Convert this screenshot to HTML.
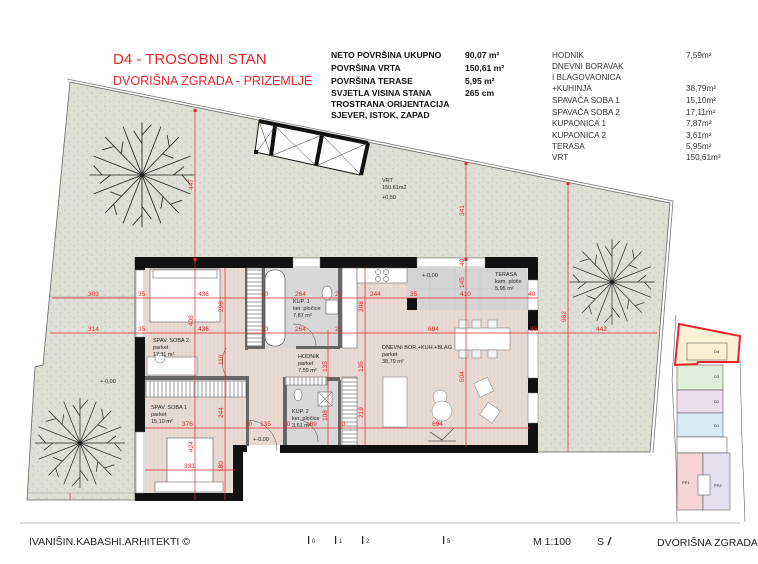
<!DOCTYPE html>
<html><head><meta charset="utf-8"><style>
html,body{margin:0;padding:0;background:#fff;width:758px;height:564px;overflow:hidden}
svg{display:block}
text{font-family:"Liberation Sans",sans-serif}
.d{fill:#e8262b;font-size:6.5px}
.r{fill:#222;font-size:5.5px}
</style></head><body>
<svg width="758" height="564" viewBox="0 0 758 564" xmlns="http://www.w3.org/2000/svg">
<defs>
<pattern id="sp" width="9" height="9" patternUnits="userSpaceOnUse">
<rect width="9" height="9" fill="#dfe0d5"/>
<circle cx="2" cy="3" r="0.5" fill="#9a9c90"/><circle cx="6" cy="7" r="0.5" fill="#9a9c90"/><circle cx="7" cy="1" r="0.4" fill="#aaa"/>
</pattern>
<pattern id="fl" width="4" height="4" patternUnits="userSpaceOnUse">
<rect width="4" height="4" fill="#e8dbd4"/><line x1="2" y1="0" x2="2" y2="4" stroke="#dccbc2" stroke-width="0.5"/>
</pattern>
<pattern id="hatch" width="4" height="4" patternUnits="userSpaceOnUse">
<rect width="4" height="4" fill="#fff"/><line x1="2" y1="0" x2="2" y2="4" stroke="#555" stroke-width="0.6"/>
</pattern>
<pattern id="hatchH" width="4" height="4" patternUnits="userSpaceOnUse">
<rect width="4" height="4" fill="#fff"/><line x1="0" y1="2" x2="4" y2="2" stroke="#555" stroke-width="0.6"/>
</pattern>
<g id="tree" stroke="#222" stroke-width="0.8" fill="none">
<path d="M0 0L0 -50M0 -30L-8 -42M0 -38L9 -48M0 0L35 -36M20 -20L30 -16M26 -27L24 -38M0 0L50 0M30 0L40 -8M38 0L46 9M0 0L35 36M20 20L18 32M27 28L38 24M0 0L0 50M0 30L9 42M0 38L-9 48M0 0L-35 36M-20 20L-30 16M-27 28L-24 38M0 0L-50 0M-30 0L-40 8M-38 0L-46 -9M0 0L-35 -36M-20 -20L-18 -32M-27 -27L-38 -24M0 0L18 -46M0 0L46 -18M0 0L46 18M0 0L18 46M0 0L-18 46M0 0L-46 18M0 0L-46 -18M0 0L-18 -46"/>
</g>
</defs>

<!-- header -->
<text x="113" y="64" font-size="15" fill="#e8262b">D4 - TROSOBNI STAN</text>
<text x="113" y="85" font-size="12.5" fill="#e8262b">DVORIŠNA ZGRADA - PRIZEMLJE</text>
<g font-size="8.6" font-weight="bold" fill="#111">
<text x="331" y="58">NETO POVRŠINA UKUPNO</text><text x="465" y="58">90,07 m²</text>
<text x="331" y="71">POVRŠINA VRTA</text><text x="465" y="71">150,61 m²</text>
<text x="331" y="84">POVRŠINA TERASE</text><text x="465" y="84">5,95 m²</text>
<text x="331" y="96">SVJETLA VISINA STANA</text><text x="465" y="96">265 cm</text>
<text x="331" y="107">TROSTRANA ORIJENTACIJA</text>
<text x="331" y="118">SJEVER, ISTOK, ZAPAD</text>
</g>
<g font-size="8.2" fill="#333">
<text x="552" y="58">HODNIK</text><text x="686" y="58">7,59m²</text>
<text x="552" y="69">DNEVNI BORAVAK</text>
<text x="552" y="80">I BLAGOVAONICA</text>
<text x="552" y="91">+KUHINJA</text><text x="686" y="91">38,79m²</text>
<text x="552" y="103">SPAVAĆA SOBA 1</text><text x="686" y="103">15,10m²</text>
<text x="552" y="115">SPAVAĆA SOBA 2</text><text x="686" y="115">17,11m²</text>
<text x="552" y="126">KUPAONICA 1</text><text x="686" y="126">7,87m²</text>
<text x="552" y="138">KUPAONICA 2</text><text x="686" y="138">3,61m²</text>
<text x="552" y="149">TERASA</text><text x="686" y="149">5,95m²</text>
<text x="552" y="160">VRT</text><text x="686" y="160">150,61m²</text>
</g>

<!-- garden -->
<polygon points="70,82 670,203 650,452 537,452 537,258 135,258 135,500 27,500 35,367 43,365" fill="url(#sp)" stroke="#666" stroke-width="0.8"/>
<polyline points="67,79 673,201 653,453" fill="none" stroke="#777" stroke-width="0.8"/>
<line x1="50" y1="297" x2="135" y2="297" stroke="#999" stroke-width="0.5"/>
<line x1="28" y1="493" x2="135" y2="493" stroke="#999" stroke-width="0.5"/>
<use href="#tree" transform="translate(142,175) scale(1.05)"/>
<use href="#tree" transform="translate(80,443) scale(0.9)"/>
<use href="#tree" transform="translate(612,282) scale(0.85)"/>

<!-- pergola -->
<polygon points="259,121 368,143 360,175 255,152" fill="#fff" stroke="#111" stroke-width="1"/>
<line x1="259" y1="121" x2="368" y2="143" stroke="#111" stroke-width="4"/>
<line x1="368" y1="143" x2="361" y2="175" stroke="#111" stroke-width="4"/>
<line x1="275" y1="126" x2="271" y2="156" stroke="#111" stroke-width="4"/>
<line x1="322" y1="135" x2="316" y2="166" stroke="#111" stroke-width="4"/>
<g stroke="#333" stroke-width="0.5"><line x1="275" y1="126" x2="316" y2="166"/><line x1="322" y1="135" x2="271" y2="156"/><line x1="322" y1="135" x2="361" y2="175"/><line x1="368" y1="143" x2="316" y2="166"/><line x1="259" y1="121" x2="271" y2="156"/><line x1="275" y1="126" x2="257" y2="152"/></g>
<rect x="254" y="150" width="4" height="4" fill="#111"/>
<text x="382" y="182" class="r" font-size="5">VRT</text>
<text x="382" y="189" class="r" font-size="5">150.61m2</text>
<text x="382" y="199" class="r" font-size="5">+0,50</text>
<text x="100" y="383" class="r">+-0,00</text>

<!-- floors -->
<rect x="145" y="268" width="383" height="177" fill="url(#fl)"/>
<rect x="145" y="445" width="90" height="48" fill="url(#fl)"/>
<rect x="263" y="268" width="77" height="80" fill="#d8d8d8"/>
<rect x="285" y="377" width="55" height="68" fill="#d8d8d8"/>
<rect x="407" y="268" width="120" height="42" fill="#d4d4d4"/>
<g stroke="#c4c4c4" stroke-width="0.5"><line x1="430" y1="268" x2="430" y2="310"/><line x1="455" y1="268" x2="455" y2="310"/><line x1="480" y1="268" x2="480" y2="310"/><line x1="505" y1="268" x2="505" y2="310"/><line x1="407" y1="289" x2="527" y2="289"/></g>
<rect x="247" y="445" width="33" height="8" fill="#fff"/>

<!-- outer walls -->
<g fill="#111">
<rect x="135" y="257" width="158" height="11"/>
<rect x="320" y="257" width="97" height="11"/>
<rect x="485" y="257" width="53" height="11"/>
<rect x="135" y="257" width="10" height="13"/>
<rect x="135" y="337" width="10" height="95"/>
<rect x="135" y="493" width="108" height="8"/>
<rect x="233" y="445" width="10" height="56"/>
<rect x="233" y="445" width="14" height="7"/>
<rect x="280" y="445" width="258" height="8"/>
<rect x="528" y="257" width="10" height="23"/>
<rect x="528" y="310" width="10" height="20"/>
<rect x="528" y="378" width="10" height="15"/>
<rect x="528" y="423" width="10" height="30"/>
<rect x="407" y="298" width="10" height="12"/>
</g>
<g fill="#fff" stroke="#777" stroke-width="0.5">
<rect x="293" y="258" width="27" height="9"/>
<rect x="417" y="258" width="68" height="9"/>
<rect x="528" y="280" width="10" height="30"/>
<rect x="528" y="330" width="10" height="48"/>
<rect x="528" y="393" width="10" height="30"/>
<rect x="136" y="270" width="8" height="67"/>
<rect x="136" y="432" width="8" height="61"/>
</g>

<!-- inner walls -->
<g fill="#666">
<rect x="245" y="268" width="3" height="82"/>
<rect x="262" y="268" width="3" height="80"/>
<rect x="338" y="268" width="4" height="80"/>
<rect x="245" y="346" width="20" height="3"/>
<rect x="296" y="346" width="44" height="3"/>
<rect x="145" y="376" width="102" height="4"/>
<rect x="246" y="376" width="3" height="70"/>
<rect x="283" y="380" width="4" height="65"/>
<rect x="283" y="377" width="57" height="4"/>
<rect x="338" y="380" width="3" height="65"/>
</g>
<!-- wardrobes -->
<rect x="247" y="268" width="15" height="78" fill="url(#hatchH)" stroke="#555" stroke-width="0.5"/>
<rect x="145" y="381" width="101" height="16" fill="url(#hatch)" stroke="#555" stroke-width="0.5"/>
<rect x="285" y="377" width="42" height="8" fill="url(#hatch)" stroke="#555" stroke-width="0.5"/>
<rect x="342" y="377" width="15" height="68" fill="url(#hatchH)" stroke="#555" stroke-width="0.5"/>
<!-- bathroom fixtures -->
<rect x="265" y="270" width="20" height="76" rx="9" fill="#fff" stroke="#444" stroke-width="0.6"/>
<ellipse cx="327" cy="293" rx="5" ry="7" fill="#fff" stroke="#444" stroke-width="0.5"/>
<rect x="326" y="300" width="12" height="14" fill="#fff" stroke="#444" stroke-width="0.5"/>
<ellipse cx="298" cy="395" rx="4" ry="6" fill="#fff" stroke="#444" stroke-width="0.5"/>
<rect x="318" y="392" width="14" height="14" fill="#fff" stroke="#444" stroke-width="0.5"/>
<line x1="318" y1="392" x2="332" y2="406" stroke="#444" stroke-width="0.5"/><line x1="332" y1="392" x2="318" y2="406" stroke="#444" stroke-width="0.5"/>
<!-- kitchen -->
<rect x="342" y="268" width="15" height="80" fill="#fff" stroke="#555" stroke-width="0.5"/>
<rect x="357" y="268" width="50" height="15" fill="#fff" stroke="#555" stroke-width="0.5"/>
<g fill="none" stroke="#444" stroke-width="0.5"><circle cx="378" cy="272" r="2.5"/><circle cx="386" cy="272" r="2.5"/><circle cx="378" cy="279" r="2.5"/><circle cx="386" cy="279" r="2.5"/></g>
<!-- doors -->
<g fill="none" stroke="#444" stroke-width="0.5">
<path d="M226 348 A28 28 0 0 0 226 376"/><path d="M293 324 A22 22 0 0 1 316 346"/>
<path d="M247 420 A30 30 0 0 1 277 450"/><path d="M300 420 A22 22 0 0 1 318 442"/>
</g>
<!-- beds -->
<rect x="150" y="269" width="70" height="53" fill="#fff" stroke="#555" stroke-width="0.6"/>
<rect x="153" y="270" width="64" height="8" fill="#fff" stroke="#555" stroke-width="0.5"/>
<rect x="147" y="357" width="50" height="18" fill="#fff" stroke="#555" stroke-width="0.5"/>
<circle cx="160" cy="358" r="5" fill="#fff" stroke="#555" stroke-width="0.5"/>
<rect x="167" y="438" width="46" height="45" fill="#fff" stroke="#555" stroke-width="0.6"/>
<rect x="155" y="482" width="68" height="10" fill="#fff" stroke="#555" stroke-width="0.5"/>
<!-- living furniture -->
<rect x="455" y="328" width="55" height="22" fill="#fff" stroke="#666" stroke-width="0.5"/>
<g fill="#f3f3f3" stroke="#777" stroke-width="0.5">
<rect x="459" y="320" width="9" height="8"/><rect x="472" y="320" width="9" height="8"/><rect x="488" y="320" width="9" height="8"/>
<rect x="459" y="350" width="9" height="8"/><rect x="472" y="350" width="9" height="8"/><rect x="488" y="350" width="9" height="8"/>
<rect x="383" y="377" width="24" height="50" fill="#fff"/>
<circle cx="440" cy="397" r="7" fill="#fff"/><circle cx="442" cy="411" r="10" fill="#fff"/>
<rect x="476" y="380" width="15" height="15" transform="rotate(-25 483 387)" fill="#fff"/>
<rect x="483" y="405" width="15" height="15" transform="rotate(35 490 412)" fill="#fff"/>
</g>
<path d="M430 432 L442 440 L454 428 M428 441 L456 441" stroke="#555" stroke-width="0.8" fill="none"/>

<!-- red dimensions -->
<g stroke="#e8262b" stroke-width="0.7" fill="none">
<line x1="52" y1="298" x2="538" y2="298"/>
<line x1="50" y1="333" x2="657" y2="333"/>
<line x1="145" y1="428" x2="530" y2="428"/>
<line x1="145" y1="470" x2="235" y2="470"/>
<line x1="195" y1="110" x2="195" y2="500"/>
<line x1="225" y1="268" x2="225" y2="500"/>
<line x1="328" y1="330" x2="328" y2="445"/>
<line x1="365" y1="268" x2="365" y2="445"/>
<line x1="466" y1="163" x2="466" y2="447"/>
<line x1="568" y1="183" x2="568" y2="452"/>
<line x1="70" y1="493" x2="70" y2="500"/>
</g>
<g fill="#e8262b">
<rect x="193.5" y="109" width="3" height="3"/><rect x="464.5" y="162" width="3" height="3"/><rect x="566.5" y="182" width="3" height="3"/>
<rect x="464.5" y="258" width="3" height="3"/><rect x="193.5" y="258" width="3" height="3"/>
</g>
<text class="d" x="88" y="296">303</text><text class="d" x="138" y="296">35</text><text class="d" x="198" y="296">436</text><text class="d" x="261" y="296">10</text><text class="d" x="295" y="296">264</text><text class="d" x="335" y="296">20</text><text class="d" x="370" y="296">244</text><text class="d" x="410" y="296">35</text><text class="d" x="460" y="296">410</text><text class="d" x="528" y="296">40</text>
<text class="d" x="88" y="331">314</text><text class="d" x="138" y="331">35</text><text class="d" x="198" y="331">436</text><text class="d" x="261" y="331">10</text><text class="d" x="295" y="331">264</text><text class="d" x="335" y="331">20</text><text class="d" x="428" y="331">694</text><text class="d" x="530" y="331">35</text><text class="d" x="596" y="331">442</text>
<text class="d" x="182" y="426">376</text><text class="d" x="245" y="426">10</text><text class="d" x="260" y="426">135</text><text class="d" x="283" y="426">10</text><text class="d" x="306" y="426">189</text><text class="d" x="338" y="426">10</text><text class="d" x="432" y="426">694</text>
<text class="d" x="184" y="468">331</text>
<g class="d">
<text transform="translate(193,190) rotate(-90)">447</text>
<text transform="translate(193,326) rotate(-90)">408</text>
<text transform="translate(193,452) rotate(-90)">424</text>
<text transform="translate(223,312) rotate(-90)">298</text>
<text transform="translate(223,365) rotate(-90)">110</text>
<text transform="translate(223,418) rotate(-90)">244</text>
<text transform="translate(223,472) rotate(-90)">180</text>
<text transform="translate(327,372) rotate(-90)">135</text>
<text transform="translate(327,421) rotate(-90)">108</text>
<text transform="translate(363,312) rotate(-90)">308</text>
<text transform="translate(363,372) rotate(-90)">135</text>
<text transform="translate(363,418) rotate(-90)">219</text>
<text transform="translate(464,216) rotate(-90)">341</text>
<text transform="translate(464,266) rotate(-90)">40</text>
<text transform="translate(464,288) rotate(-90)">145</text>
<text transform="translate(464,382) rotate(-90)">504</text>
<text transform="translate(566,322) rotate(-90)">982</text>
</g>

<!-- room labels -->
<g class="r">
<text x="293" y="303">KUP. 1</text><text x="293" y="310">ker. pločice</text><text x="293" y="317">7,87 m²</text>
<text x="153" y="342">SPAV. SOBA 2</text><text x="153" y="349">parket</text><text x="153" y="356">17,11 m²</text>
<text x="151" y="409">SPAV. SOBA 1</text><text x="151" y="416">parket</text><text x="151" y="423">15,10 m²</text>
<text x="298" y="358">HODNIK</text><text x="298" y="365">parket</text><text x="298" y="372">7,59 m²</text>
<text x="382" y="349">DNEVNI BOR.+KUH.+BLAG</text><text x="382" y="356">parket</text><text x="382" y="363">38,79 m²</text>
<text x="292" y="413">KUP. 2</text><text x="292" y="420">ker. pločice</text><text x="292" y="427">3,61 m²</text>
<text x="495" y="276">TERASA</text><text x="495" y="283">kam. ploče</text><text x="495" y="290">5,95 m²</text>
<text x="422" y="277">+-0,00</text><text x="253" y="441">+-0.00</text>
</g>

<!-- key plan -->
<g stroke="#444" stroke-width="0.5">
<polyline points="676,315 672,380 676,460 677,522" fill="none"/>
<polyline points="740,360 742,440 745,522" fill="none"/>
<rect x="677" y="365" width="46" height="25" fill="#e1eedb"/>
<rect x="677" y="390" width="46" height="23" fill="#eddcec"/>
<rect x="677" y="413" width="46" height="24" fill="#d8ebf4"/>
<rect x="677" y="437" width="50" height="16" fill="#fff"/>
<rect x="677" y="453" width="26" height="57" fill="#f5d3d6"/>
<rect x="703" y="453" width="27" height="57" fill="#e4e0ef"/>
<rect x="698" y="475" width="12" height="20" fill="#fff"/>
</g>
<polygon points="679,324 740,336 738,362 698,362 697,364 675,365" fill="#fcf0d4" stroke="#e8262b" stroke-width="2"/>
<rect x="687" y="343" width="40" height="17" fill="none" stroke="#444" stroke-width="0.5"/>
<g font-size="4" fill="#222"><text x="714" y="353">D4</text><text x="714" y="378">D3</text><text x="714" y="403">D2</text><text x="714" y="427">D1</text><text x="682" y="484">PP1</text><text x="714" y="487">PP2</text></g>

<!-- footer -->
<line x1="20" y1="523" x2="740" y2="523" stroke="#bbb" stroke-width="1"/>
<text x="29" y="545" font-size="10.5" fill="#222">IVANIŠIN.KABASHI.ARHITEKTI ©</text>
<g fill="#222" font-size="6"><rect x="308" y="536" width="1.2" height="8"/><text x="312" y="543">0</text><rect x="335" y="536" width="1.2" height="8"/><text x="339" y="543">1</text><rect x="362" y="536" width="1.2" height="8"/><text x="366" y="543">2</text><rect x="443" y="536" width="1.2" height="8"/><text x="447" y="543">5</text></g>
<text x="533" y="545" font-size="10.5" fill="#222">M 1:100</text>
<text x="597" y="545" font-size="10.5" fill="#222">S</text>
<line x1="608" y1="545" x2="611" y2="537" stroke="#222" stroke-width="1.3"/>
<text x="657" y="546" font-size="10.5" fill="#222">DVORIŠNA ZGRADA</text>
</svg>
</body></html>
